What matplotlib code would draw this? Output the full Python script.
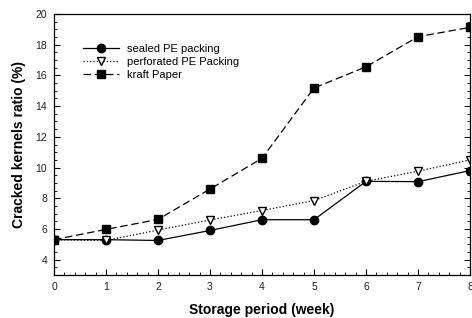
import matplotlib
matplotlib.use("Agg")
import matplotlib.pyplot as plt
from matplotlib.ticker import MultipleLocator

plt.rcParams['font.family'] = ['Liberation Sans', 'DejaVu Sans']

weeks = [0, 1, 2, 3, 4, 5, 6, 7, 8]
sealed = [5.3, 5.3, 5.25, 5.9, 6.6, 6.6, 9.1, 9.08, 9.8]
perforated = [5.3, 5.25, 5.93, 6.58, 7.2, 7.85, 9.1, 9.76, 10.5]
kraft = [5.3, 5.97, 6.62, 8.6, 10.6, 15.18, 16.56, 18.52, 19.13]
labels = ['sealed PE packing', 'perforated PE Packing', 'kraft Paper']

fig = plt.figure(figsize=(4.72, 3.18), dpi=100)
ax = fig.add_axes([54/472, 1-275/318, (470-54)/472, (275-14)/318])

ax.plot(weeks, sealed, '-', color='black', lw=0.9, marker='o', ms=6,
        mfc='black', mec='black', label=labels[0])
ax.plot(weeks, perforated, ':', color='black', lw=0.9, marker='v', ms=6,
        mfc='white', mec='black', mew=1.0, label=labels[1])
ax.plot(weeks, kraft, '--', color='black', lw=0.9, dashes=(6, 3), marker='s', ms=5.5,
        mfc='black', mec='black', label=labels[2])

ax.set_xlim(0, 8)
ax.set_ylim(3, 20)
ax.xaxis.set_major_locator(MultipleLocator(1))
ax.xaxis.set_minor_locator(MultipleLocator(0.2))
ax.yaxis.set_minor_locator(MultipleLocator(0.5))
ax.set_yticks([4, 6, 8, 10, 12, 14, 16, 18, 20])
ax.tick_params(which='both', direction='in', top=False, right=True, labelsize=7.5, pad=5,
               labelcolor='#222222')
ax.tick_params(which='major', length=4, width=0.8)
ax.tick_params(which='minor', length=2, width=0.6)
for s in ax.spines.values():
    s.set_linewidth(0.9)

ax.set_xlabel('Storage period (week)', fontsize=10, fontweight='bold', labelpad=8)
ax.set_ylabel('Cracked kernels ratio (%)', fontsize=10, fontweight='bold', labelpad=7)

leg = ax.legend(loc='upper left', bbox_to_anchor=(0.07, 0.885), frameon=False,
                fontsize=8, handlelength=3.25, labelspacing=0.25, handletextpad=0.7,
                borderaxespad=0, borderpad=0)

fig.savefig('out.png', dpi=100)
